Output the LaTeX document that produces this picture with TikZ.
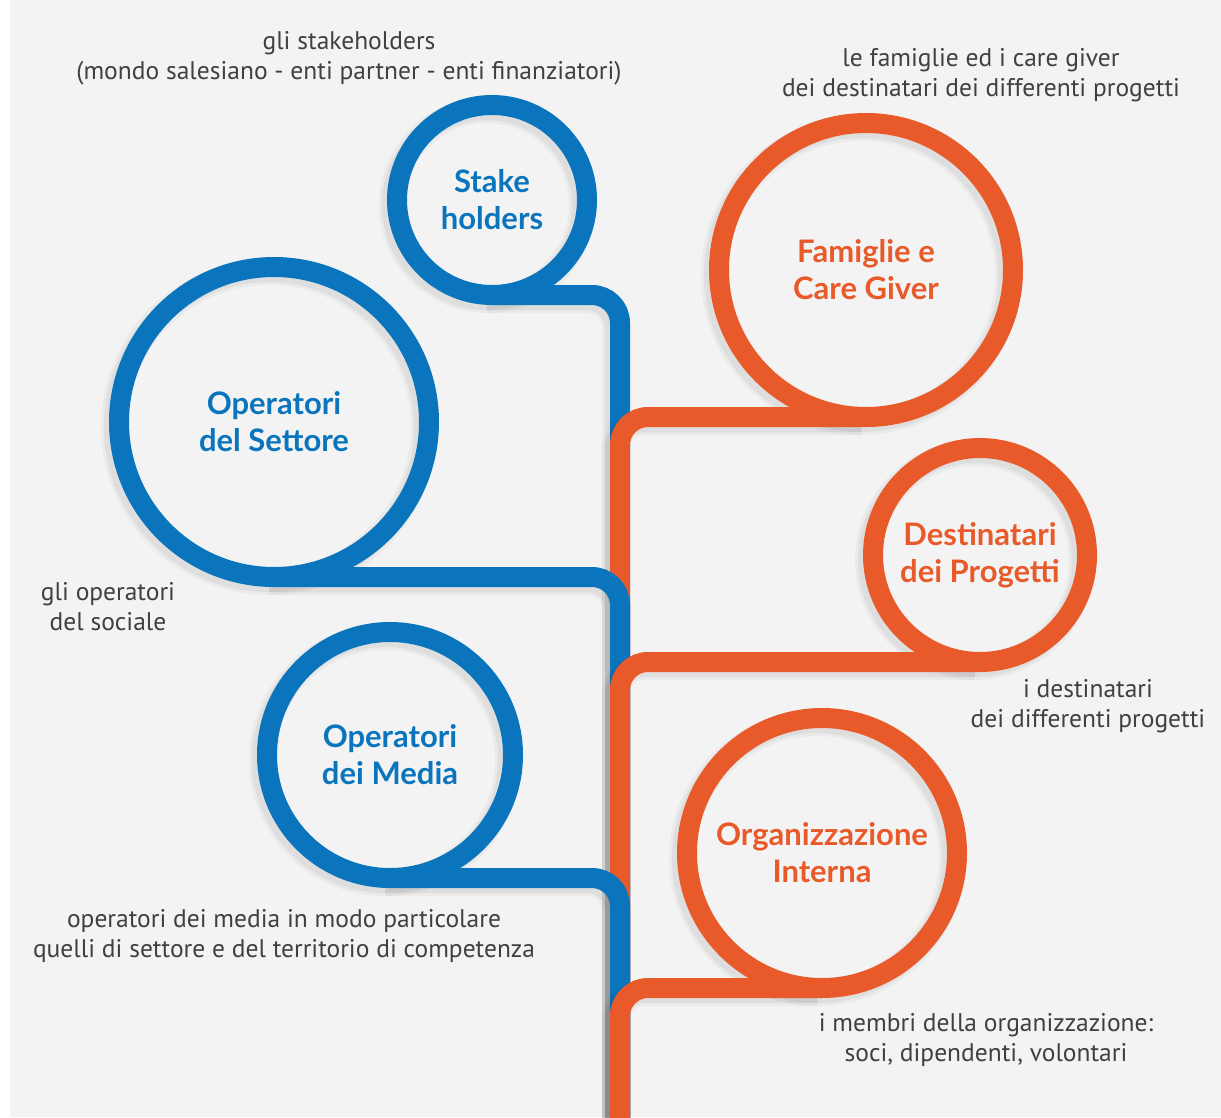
\documentclass[tikz,border=0pt]{standalone}
\usepackage{fontspec}
\setmainfont{Lato}
\newfontfamily\titlefont{Lato}
\newfontfamily\lblfont{PT Sans}
\usetikzlibrary{calc}
\definecolor{cblue}{HTML}{0A75BC}
\definecolor{corange}{HTML}{E95A2A}
\definecolor{cbg}{HTML}{F3F3F3}
\definecolor{ctext}{HTML}{404040}
\tikzset{
  ringnode/.style={circle, draw=#1, line width=20pt, inner sep=0pt, outer sep=0pt,
    text=#1, align=center, font=\titlefont\bfseries\fontsize{31}{37}\selectfont},
  branchline/.style={draw=#1, line width=20pt, rounded corners=28pt},
  shadwide/.style={draw=black, opacity=0.035, line width=26pt, rounded corners=28pt},
  shadnarrow/.style={draw=black, opacity=0.05, line width=20pt, rounded corners=28pt},
  lbl/.style={text=ctext, align=center, font=\lblfont\fontsize{25.5}{30}\selectfont}
}
\begin{document}
\begin{tikzpicture}[x=1pt,y=-1pt]
  \useasboundingbox (0,0) rectangle (1221,1117);
  \fill[white] (0,0) rectangle (1221,1117);
  \fill[cbg] (10,0) rectangle (1221,1117);

  % trunk reference
  \coordinate (trunk) at (620,0);
  \coordinate (bottom) at (620,1130);

  % circle centres
  \coordinate (c1) at (492,200);
  \coordinate (c2) at (866,270);
  \coordinate (c3) at (274,422);
  \coordinate (c4) at (980,555);
  \coordinate (c5) at (390,755);
  \coordinate (c6) at (822,853);

  % ---- branch 1: Stake holders (blue)
  \foreach \sty in {shadwide,shadnarrow}{
    \draw[\sty] ($(c1)+(-5,5)$) circle[radius=95];
    \draw[\sty] ($(c1)+(-5,100)$) -- ($(c1 -| trunk)+(-5,100)$) -- ($(bottom)+(-5,0)$);
  }
  \node[ringnode=cblue, minimum size=190pt] (stk) at (c1) {Stake\\holders};
  \draw[branchline=cblue] (stk.south) -- (stk.south -| trunk) -- (bottom);

  % ---- branch 2: Famiglie e Care Giver (orange)
  \foreach \sty in {shadwide,shadnarrow}{
    \draw[\sty] ($(c2)+(-5,5)$) circle[radius=147];
    \draw[\sty] ($(c2)+(-5,152)$) -- ($(c2 -| trunk)+(-5,152)$) -- ($(bottom)+(-5,0)$);
  }
  \node[ringnode=corange, minimum size=294pt] (fam) at (c2) {Famiglie e\\Care Giver};
  \draw[branchline=corange] (fam.south) -- (fam.south -| trunk) -- (bottom);

  % ---- branch 3: Operatori del Settore (blue)
  \foreach \sty in {shadwide,shadnarrow}{
    \draw[\sty] ($(c3)+(-5,5)$) circle[radius=155];
    \draw[\sty] ($(c3)+(-5,160)$) -- ($(c3 -| trunk)+(-5,160)$) -- ($(bottom)+(-5,0)$);
  }
  \node[ringnode=cblue, minimum size=310pt] (set) at (c3) {Operatori\\del Settore};
  \draw[branchline=cblue] (set.south) -- (set.south -| trunk) -- (bottom);

  % ---- branch 4: Destinatari dei Progetti (orange)
  \foreach \sty in {shadwide,shadnarrow}{
    \draw[\sty] ($(c4)+(-5,5)$) circle[radius=107];
    \draw[\sty] ($(c4)+(-5,112)$) -- ($(c4 -| trunk)+(-5,112)$) -- ($(bottom)+(-5,0)$);
  }
  \node[ringnode=corange, minimum size=214pt] (des) at (c4) {Destinatari\\dei Progetti};
  \draw[branchline=corange] (des.south) -- (des.south -| trunk) -- (bottom);

  % ---- branch 5: Operatori dei Media (blue)
  \foreach \sty in {shadwide,shadnarrow}{
    \draw[\sty] ($(c5)+(-5,5)$) circle[radius=123];
    \draw[\sty] ($(c5)+(-5,128)$) -- ($(c5 -| trunk)+(-5,128)$) -- ($(bottom)+(-5,0)$);
  }
  \node[ringnode=cblue, minimum size=246pt] (med) at (c5) {Operatori\\dei Media};
  \draw[branchline=cblue] (med.south) -- (med.south -| trunk) -- (bottom);

  % ---- branch 6: Organizzazione Interna (orange)
  \foreach \sty in {shadwide,shadnarrow}{
    \draw[\sty] ($(c6)+(-5,5)$) circle[radius=135];
    \draw[\sty] ($(c6)+(-5,140)$) -- ($(c6 -| trunk)+(-5,140)$) -- ($(bottom)+(-5,0)$);
  }
  \node[ringnode=corange, minimum size=270pt] (org) at (c6) {Organizzazione\\Interna};
  \draw[branchline=corange] (org.south) -- (org.south -| trunk) -- (bottom);

  % ---- labels
  \node[lbl] (l1) at (349,58) {gli stakeholders\\(mondo salesiano - enti partner - enti finanziatori)};
  \node[lbl] (l2) at (981,75) {le famiglie ed i care giver\\dei destinatari dei differenti progetti};
  \node[lbl] (l3) at (108,607) {gli operatori\\del sociale};
  \node[lbl] (l4) at (1088,706) {i destinatari\\dei differenti progetti};
  \node[lbl] (l5) at (284,936) {operatori dei media in modo particolare\\quelli di settore e del territorio di competenza};
  \node[lbl] (l6) at (986,1040) {i membri della organizzazione:\\soci, dipendenti, volontari};
\end{tikzpicture}
\end{document}
